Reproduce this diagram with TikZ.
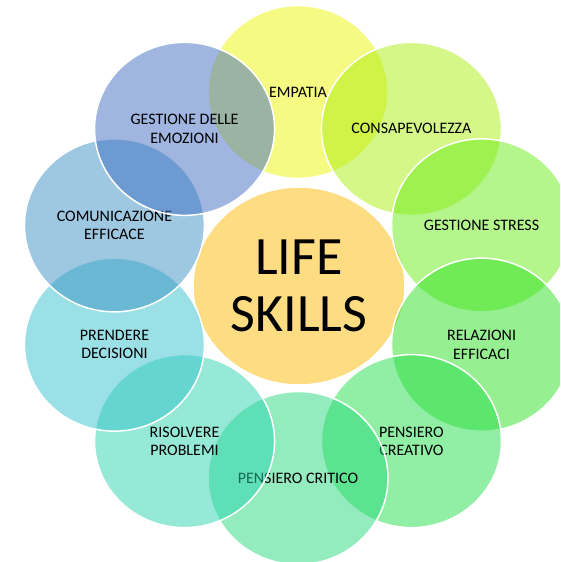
\documentclass[tikz,border=0pt]{standalone}
\usepackage{fontspec}
\setmainfont{Carlito}
\usetikzlibrary{shapes.geometric}

\definecolor{colEmpatia}{RGB}{235,245,5}
\definecolor{colConsap}{RGB}{169,239,15}
\definecolor{colStress}{RGB}{105,235,25}
\definecolor{colRelaz}{RGB}{45,225,35}
\definecolor{colCreat}{RGB}{35,221,75}
\definecolor{colCrit}{RGB}{41,217,125}
\definecolor{colRisolv}{RGB}{45,211,175}
\definecolor{colPrend}{RGB}{55,193,205}
\definecolor{colComun}{RGB}{61,145,195}
\definecolor{colEmoz}{RGB}{65,109,195}
\definecolor{colCore}{RGB}{253,220,130}

\begin{document}
\begin{tikzpicture}[
    x=1pt, y=1pt,
    skill/.style={ellipse, draw=white, line width=1.5pt, fill opacity=0.5,
                  draw opacity=1, text opacity=1, text=black,
                  minimum width=180pt, minimum height=173pt, inner sep=0pt,
                  align=center, font=\fontsize{16}{18.5}\selectfont},
    core/.style={ellipse, draw=white, line width=1.5pt, fill=colCore,
                 minimum width=212pt, minimum height=198pt, inner sep=0pt,
                 align=center, font=\fontsize{54}{57}\selectfont}
]

% Frame
\clip (-298,-277) rectangle (262,285);

% Centre
\node[core] (life) at (1,-1) {LIFE\\SKILLS};

% Ring of skills
\foreach \a/\c/\t [count=\i] in {
    90/colEmpatia/EMPATIA,
    54/colConsap/CONSAPEVOLEZZA,
    18/colStress/GESTIONE STRESS,
    -18/colRelaz/{RELAZIONI\\EFFICACI},
    -54/colCreat/{PENSIERO\\CREATIVO},
    -90/colCrit/PENSIERO CRITICO,
    -126/colRisolv/{RISOLVERE\\PROBLEMI},
    -162/colPrend/{PRENDERE\\DECISIONI},
    162/colComun/{COMUNICAZIONE\\EFFICACE},
    126/colEmoz/{GESTIONE DELLE\\EMOZIONI}} {
    \node[skill, fill=\c] (skill_\i) at (\a:193) {\t};
}

\end{tikzpicture}
\end{document}
